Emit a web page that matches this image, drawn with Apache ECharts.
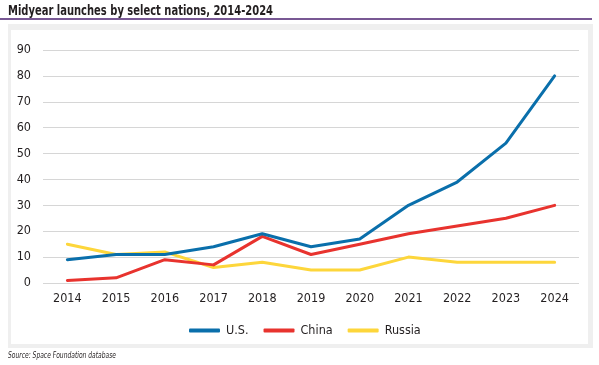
<!DOCTYPE html>
<html><head><meta charset="utf-8">
<script src="https://cdn.jsdelivr.net/npm/echarts@6/dist/echarts.min.js"></script>
<style>html,body{margin:0;padding:0;background:#fff}#c{width:599px;height:365px}</style>
</head><body><div id="c"></div>
<script>
const years = ['2014','2015','2016','2017','2018','2019','2020','2021','2022','2023','2024'];
const us = [9, 11, 11, 14, 19, 14, 17, 30, 39, 54, 80];
const china = [1, 2, 9, 7, 18, 11, 15, 19, 22, 25, 30];
const russia = [15, 11, 12, 6, 8, 5, 5, 10, 8, 8, 8];
const seriesNames = ['U.S.', 'China', 'Russia'];
const titleText = 'Midyear launches by select nations, 2014-2024';
const sourceText = 'Source: Space Foundation database';
const colors = ['#0a6fab', '#e8332e', '#fdd63b'];
const FONT = '"Liberation Sans Narrow", "DejaVu Sans Condensed", sans-serif';

const chart = echarts.init(document.getElementById('c'), null, {renderer: 'canvas'});
const mk = (name, data, i) => ({
  name, type: 'line', data, symbol: 'none', z: 3 + (2 - i),
  lineStyle: {color: colors[i], width: 3, cap: 'round', join: 'round'},
  itemStyle: {color: colors[i]}
});
chart.setOption({
  animation: false,
  color: colors,
  graphic: [
    {type: 'text', x: 8, y: 4, scaleX: 0.82, style: {text: titleText, font: 'bold 13.5px ' + FONT, fill: '#231f20'}},
    {type: 'line', shape: {x1: 0, y1: 19, x2: 592, y2: 19}, style: {stroke: '#4b2170', lineWidth: 1.5}, z: -5},
    {type: 'rect', shape: {x: 8, y: 24, width: 585, height: 324}, style: {fill: '#efefef'}, z: -10},
    {type: 'rect', shape: {x: 11, y: 30, width: 577, height: 314}, style: {fill: '#ffffff'}, z: -9},
    {type: 'text', x: 8, y: 351, scaleX: 0.7, style: {text: sourceText, font: 'italic 9.5px ' + FONT, fill: '#231f20'}}
  ],
  legend: {
    data: seriesNames,
    top: 319, left: 184,
    itemWidth: 31, itemHeight: 4, itemGap: 15,
    icon: 'roundRect',
    textStyle: {fontFamily: FONT, fontSize: 12.5, color: '#231f20', padding: [0, 0, 0, 1]}
  },
  grid: {left: 43, right: 20, top: 50, bottom: 82, containLabel: false},
  xAxis: {
    type: 'category', data: years, boundaryGap: true,
    axisLine: {show: false}, axisTick: {show: false},
    axisLabel: {fontFamily: FONT, fontSize: 12.5, color: '#231f20', margin: 9},
    splitLine: {show: false}
  },
  yAxis: {
    type: 'value', min: 0, max: 90, interval: 10,
    axisLine: {show: false}, axisTick: {show: false},
    axisLabel: {fontFamily: FONT, fontSize: 12.5, color: '#231f20', margin: 12},
    splitLine: {lineStyle: {color: '#d6d6d6', width: 1}}
  },
  series: [mk('U.S.', us, 0), mk('China', china, 1), mk('Russia', russia, 2)]
});
</script></body></html>
